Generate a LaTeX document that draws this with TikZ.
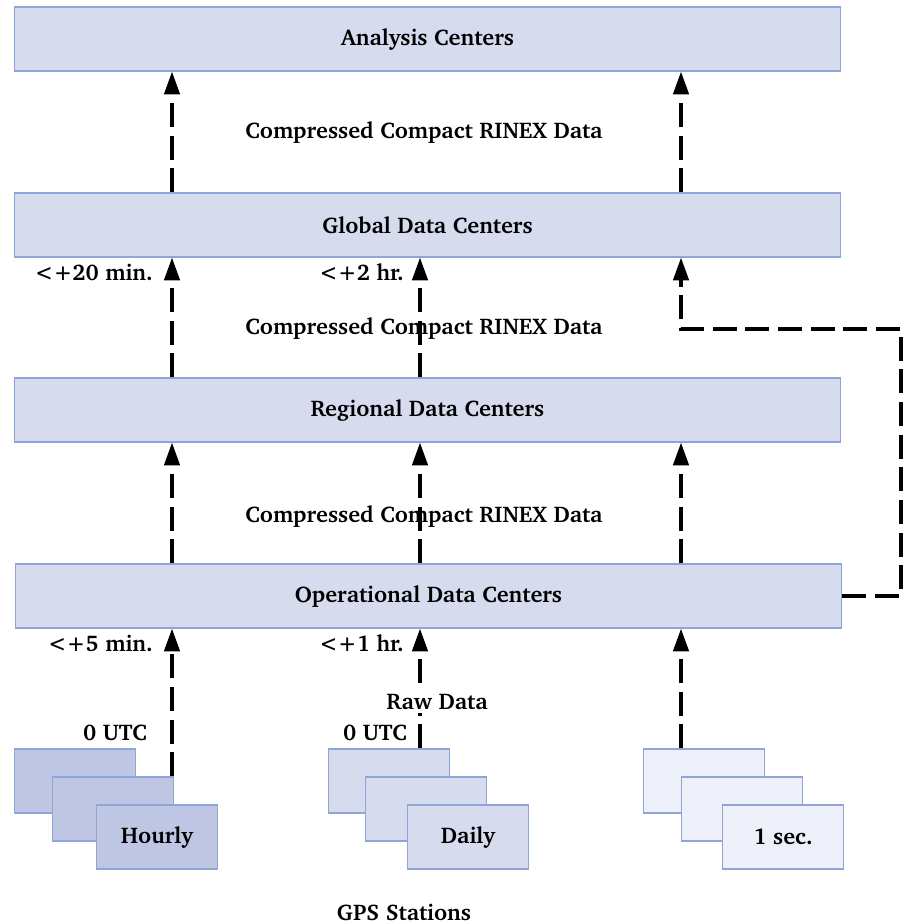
\documentclass[tikz,border=0pt]{standalone}
\usepackage[T1]{fontenc}
\usepackage{charter}
\usepackage{tikz}
\usetikzlibrary{arrows.meta}

\definecolor{barfill}{HTML}{D6DBEE}
\definecolor{barline}{HTML}{8FA5D8}
\definecolor{hourfill}{HTML}{BFC6E4}
\definecolor{secfill}{HTML}{EDF0F9}

\tikzset{
    center/.style={draw=barline, fill=barfill, line width=0.9pt,
        minimum width=620pt, minimum height=48pt, inner sep=0pt},
    station/.style={draw=barline, line width=0.9pt,
        minimum width=91pt, minimum height=48pt, inner sep=0pt},
    flow/.style={line width=2.4pt, dash pattern=on 18pt off 6.5pt,
        -{Triangle[length=17pt, width=11.5pt]}},
    lbl/.style={font=\fontsize{17}{19}\selectfont\bfseries, inner sep=0pt}
}

\begin{document}
\begin{tikzpicture}[x=0.75pt, y=-0.75pt, lbl]
    \useasboundingbox (0,0) rectangle (903,924);

    \coordinate (c1) at (172,0);
    \coordinate (c2) at (420,0);
    \coordinate (c3) at (681,0);
    \coordinate (bend) at (901,329);

    \node[center] (ana) at (427.5,39) {\raisebox{-1.5pt}{Analysis Centers}};
    \node[center] (glob) at (427.5,225) {\raisebox{-1.5pt}{Global Data Centers}};
    \node[center] (reg) at (427.5,410) {\raisebox{-1.5pt}{Regional Data Centers}};
    \node[center] (ops) at (428.5,596) {\raisebox{-1.5pt}{Operational Data Centers}};

    \node[station, fill=hourfill] (h1) at (75,781) {};
    \node[station, fill=hourfill] (h2) at (113,809) {};
    \node[station, fill=hourfill] (h3) at (157,837) {Hourly};
    \node[station, fill=barfill] (d1) at (389,781) {};
    \node[station, fill=barfill] (d2) at (426,809) {};
    \node[station, fill=barfill] (d3) at (468,837) {Daily};
    \node[station, fill=secfill] (s1) at (704,781) {};
    \node[station, fill=secfill] (s2) at (742,809) {};
    \node[station, fill=secfill] (s3) at (783,837) {1 sec.};

    \draw[flow] (glob.north -| c1) -- (ana.south -| c1);
    \draw[flow] (glob.north -| c3) -- (ana.south -| c3);
    \draw[flow] (reg.north -| c1) -- (glob.south -| c1);
    \draw[flow] (reg.north -| c2) -- (glob.south -| c2);
    \draw[flow] (ops.north -| c1) -- (reg.south -| c1);
    \draw[flow] (ops.north -| c2) -- (reg.south -| c2);
    \draw[flow] (ops.north -| c3) -- (reg.south -| c3);
    \draw[flow] (h2.north -| c1) -- (ops.south -| c1);
    \draw[flow] (d1.north -| c2) -- (ops.south -| c2);
    \draw[flow] (s1.north -| c3) -- (ops.south -| c3);
    \draw[flow] (ops.east) -| (bend) -| (glob.south -| c3);

    \node (t1) at (424,132) {Compressed Compact RINEX Data};
    \node (t2) at (424,328) {Compressed Compact RINEX Data};
    \node (t3) at (424,516) {Compressed Compact RINEX Data};
    \node[anchor=east] (t20m) at (153,272) {<+20 min.};
    \node[anchor=east] (t2h) at (404,272) {<+2 hr.};
    \node[anchor=east] (t5m) at (153,643) {<+5 min.};
    \node[anchor=east] (t1h) at (404,643) {<+1 hr.};
    \node[fill=white, inner sep=2pt] (raw) at (437,702) {Raw Data};
    \node (utc1) at (115,733) {0 UTC};
    \node (utc2) at (375,733) {0 UTC};
    \node (gps) at (404,912) {GPS Stations};
\end{tikzpicture}
\end{document}
